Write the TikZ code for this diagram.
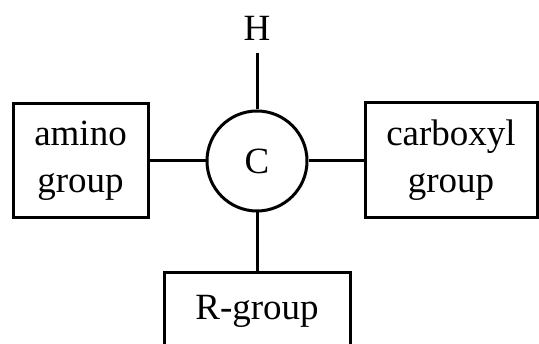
\documentclass[tikz,border=0pt]{standalone}
\usepackage{fontspec}
\setmainfont{Liberation Serif}
\begin{document}
\begin{tikzpicture}[x=1pt,y=-1pt,
  every node/.style={font=\fontsize{37}{46.5}\selectfont, text=black},
  groupbox/.style={draw, line width=3pt, rectangle, inner sep=0pt, align=center},
  atom/.style={draw, line width=3pt, circle, inner sep=0pt, minimum size=100pt},
  bond/.style={line width=3pt}]
  \useasboundingbox (0,0) rectangle (539,344);

  % central carbon and its four substituents
  \node[atom] (c) at (257,161) {C};
  \node[inner sep=0pt, anchor=base] (h) at (257,41) {H};
  \node[groupbox, minimum width=135pt, minimum height=114.5pt] (amino) at (80.5,160.5) {amino\\group};
  \node[groupbox, minimum width=172pt, minimum height=115pt] (carboxyl) at (451,160.2) {carboxyl\\group};
  \node[groupbox, minimum width=186pt, minimum height=77pt, anchor=north] (rgroup) at (257,271) {R-group};

  % bonds
  \draw[bond, shorten >=12pt] (c) -- (h);
  \draw[bond] (c) -- (amino.east |- c);
  \draw[bond] (c) -- (carboxyl.west |- c);
  \draw[bond] (c) -- (rgroup);
\end{tikzpicture}
\end{document}
